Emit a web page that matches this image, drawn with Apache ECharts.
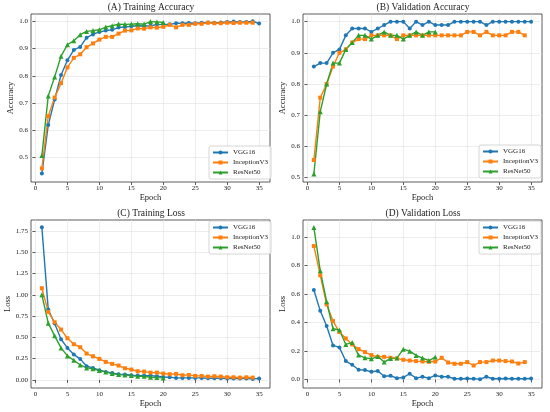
<!DOCTYPE html>
<html>
<head>
<meta charset="utf-8">
<script src="https://cdn.jsdelivr.net/npm/echarts@6/dist/echarts.min.js"></script>
<style>
  html, body { margin: 0; padding: 0; background: #fff; }
  #chart { width: 550px; height: 412px; }
</style>
</head>
<body>
<div id="chart"></div>
<script>
const epochs = [1, 2, 3, 4, 5, 6, 7, 8, 9, 10, 11, 12, 13, 14, 15, 16, 17, 18, 19, 20,
  21, 22, 23, 24, 25, 26, 27, 28, 29, 30, 31, 32, 33, 34, 35];
const modelNames = ["VGG16", "InceptionV3", "ResNet50"];
const xTicks = [0, 5, 10, 15, 20, 25, 30, 35];
const accTicks = [0.5, 0.6, 0.7, 0.8, 0.9, 1.0];
const trainLossTicks = [0, 0.25, 0.5, 0.75, 1.0, 1.25, 1.5, 1.75];
const valLossTicks = [0, 0.2, 0.4, 0.6, 0.8, 1.0];

// (A) training accuracy
const trainAccVGG = [0.441, 0.619, 0.713, 0.803, 0.857, 0.895, 0.906, 0.940, 0.952, 0.961, 0.966, 0.969,
  0.977, 0.979, 0.982, 0.984, 0.983, 0.984, 0.988, 0.989, 0.989, 0.993, 0.993, 0.994, 0.993, 0.995,
  0.996, 0.995, 0.996, 0.998, 0.999, 0.998, 0.998, 1.0, 0.992];
const trainAccInc = [0.460, 0.652, 0.720, 0.773, 0.831, 0.866, 0.879, 0.905, 0.919, 0.933, 0.943, 0.943,
  0.955, 0.966, 0.967, 0.974, 0.973, 0.978, 0.977, 0.980, 0.987, 0.978, 0.987, 0.987, 0.991, 0.991,
  0.995, 0.993, 0.993, 0.995, 0.994, 0.995, 0.995, 0.995];
const trainAccRes = [0.507, 0.726, 0.796, 0.872, 0.914, 0.929, 0.951, 0.963, 0.966, 0.969, 0.979, 0.984,
  0.990, 0.989, 0.990, 0.991, 0.990, 0.999, 0.998, 0.996];

// (B) validation accuracy
const valAccVGG = [0.856, 0.867, 0.867, 0.900, 0.911, 0.956, 0.978, 0.978, 0.978, 0.967, 0.978, 0.989,
  1, 1, 1, 0.978, 1, 0.989, 1, 0.989, 0.989, 0.989, 1, 1, 1, 1, 1, 0.989, 1, 1, 1, 1, 1, 1, 1];
const valAccInc = [0.556, 0.756, 0.800, 0.856, 0.900, 0.911, 0.933, 0.944, 0.944, 0.956, 0.956, 0.956,
  0.956, 0.944, 0.956, 0.956, 0.956, 0.956, 0.956, 0.956, 0.956, 0.956, 0.956, 0.956, 0.967, 0.967,
  0.956, 0.967, 0.956, 0.956, 0.956, 0.967, 0.967, 0.956];
const valAccRes = [0.511, 0.711, 0.800, 0.867, 0.867, 0.911, 0.933, 0.956, 0.956, 0.944, 0.956, 0.967,
  0.956, 0.956, 0.944, 0.956, 0.967, 0.956, 0.967, 0.967];

// (C) training loss
const trainLossVGG = [1.796, 0.827, 0.663, 0.478, 0.376, 0.298, 0.247, 0.161, 0.141, 0.114, 0.094, 0.082,
  0.067, 0.063, 0.055, 0.051, 0.051, 0.051, 0.043, 0.035, 0.031, 0.024, 0.024, 0.024, 0.024, 0.024,
  0.020, 0.020, 0.020, 0.016, 0.016, 0.016, 0.016, 0.012, 0.016];
const trainLossInc = [1.078, 0.800, 0.678, 0.592, 0.490, 0.420, 0.384, 0.310, 0.278, 0.247, 0.212, 0.188,
  0.169, 0.137, 0.122, 0.102, 0.098, 0.086, 0.086, 0.075, 0.067, 0.071, 0.055, 0.059, 0.047, 0.047,
  0.039, 0.043, 0.039, 0.031, 0.031, 0.027, 0.031, 0.027];
const trainLossRes = [1.0, 0.667, 0.518, 0.376, 0.282, 0.231, 0.176, 0.141, 0.130, 0.110, 0.094, 0.075,
  0.063, 0.059, 0.051, 0.043, 0.043, 0.031, 0.027, 0.024];

// (D) validation loss
const valLossVGG = [0.628, 0.482, 0.375, 0.239, 0.225, 0.129, 0.103, 0.068, 0.066, 0.054, 0.059, 0.023,
  0.026, 0.009, 0.014, 0.040, 0.009, 0.019, 0.009, 0.028, 0.019, 0.019, 0.005, 0.005, 0.007, 0.005,
  0.002, 0.019, 0.005, 0.005, 0.007, 0.005, 0.005, 0.005, 0.007];
const valLossInc = [0.937, 0.731, 0.527, 0.410, 0.333, 0.288, 0.246, 0.213, 0.192, 0.171, 0.159, 0.159,
  0.152, 0.148, 0.138, 0.133, 0.129, 0.126, 0.124, 0.126, 0.152, 0.119, 0.110, 0.110, 0.122, 0.098,
  0.122, 0.122, 0.133, 0.133, 0.129, 0.126, 0.112, 0.122];
const valLossRes = [1.068, 0.763, 0.546, 0.356, 0.347, 0.246, 0.260, 0.171, 0.152, 0.145, 0.162, 0.122,
  0.148, 0.150, 0.213, 0.199, 0.169, 0.150, 0.133, 0.157];

const FONT = "Liberation Serif";
const colors = ["#1f77b4", "#ff7f0e", "#2ca02c"];
const symbols = ["circle", "rect", "triangle"];
const symbolSizes = [4, 4, 5];

const panels = [
  { title: "(A) Training Accuracy", yName: "Accuracy", min: 0.41, max: 1.027, ticks: accTicks, dec: 1,
    data: [trainAccVGG, trainAccInc, trainAccRes], grid: { left: 31, top: 14 },
    legend: { right: 279, bottom: 233 } },
  { title: "(B) Validation Accuracy", yName: "Accuracy", min: 0.4855, max: 1.0245, ticks: accTicks, dec: 1,
    data: [valAccVGG, valAccInc, valAccRes], grid: { left: 303, top: 14 },
    legend: { right: 9, bottom: 234 } },
  { title: "(C) Training Loss", yName: "Loss", min: -0.095, max: 1.88, ticks: trainLossTicks, dec: 2,
    data: [trainLossVGG, trainLossInc, trainLossRes], grid: { left: 31, top: 220 },
    legend: { right: 279, top: 221 } },
  { title: "(D) Validation Loss", yName: "Loss", min: -0.06, max: 1.12, ticks: valLossTicks, dec: 1,
    data: [valLossVGG, valLossInc, valLossRes], grid: { left: 303, top: 220 },
    legend: { right: 9, top: 221 } },
];

const chart = echarts.init(document.getElementById("chart"), null, { renderer: "canvas" });

const titles = [], grids = [], xAxes = [], yAxes = [], series = [], legends = [];

panels.forEach((p, i) => {
  grids.push({
    left: p.grid.left, top: p.grid.top, width: 239, height: 168,
    show: true, borderColor: "#333", borderWidth: 0.8, backgroundColor: "transparent",
  });
  titles.push({
    text: p.title, left: p.grid.left + 120, top: p.grid.top - 12, textAlign: "center", padding: 0,
    textStyle: { fontFamily: FONT, fontSize: 9.5, fontWeight: "normal", color: "#222" },
  });
  xAxes.push({
    type: "value", gridIndex: i, min: -0.7, max: 36.7,
    name: "Epoch", nameLocation: "middle", nameGap: 11,
    nameTextStyle: { fontFamily: FONT, fontSize: 8.5, color: "#222" },
    axisLine: { show: false },
    axisTick: { show: true, length: 3, customValues: xTicks, lineStyle: { color: "#333", width: 0.8 } },
    axisLabel: { customValues: xTicks, fontFamily: FONT, fontSize: 7, color: "#222", margin: 3 },
    splitLine: { show: true, lineStyle: { color: "#e0e0e0", width: 0.6 } },
  });
  yAxes.push({
    type: "value", gridIndex: i, min: p.min, max: p.max,
    name: p.yName, nameLocation: "middle", nameGap: p.dec === 2 ? 19 : 15, nameRotate: 90,
    nameTextStyle: { fontFamily: FONT, fontSize: 8.5, color: "#222" },
    axisLine: { show: false },
    axisTick: { show: true, length: 3, customValues: p.ticks, lineStyle: { color: "#333", width: 0.8 } },
    axisLabel: {
      customValues: p.ticks, fontFamily: FONT, fontSize: 7, color: "#222", margin: 3,
      formatter: (v) => Number(v).toFixed(p.dec),
    },
    splitLine: { show: true, lineStyle: { color: "#e0e0e0", width: 0.6 } },
  });
  p.data.forEach((vals, k) => {
    series.push({
      name: modelNames[k], type: "line", xAxisIndex: i, yAxisIndex: i,
      data: vals.map((v, j) => [epochs[j], v]),
      symbol: symbols[k], symbolSize: symbolSizes[k], showAllSymbol: true,
      lineStyle: { color: colors[k], width: 1.4 },
      itemStyle: { color: colors[k], borderWidth: 0 },
      emphasis: { disabled: true },
    });
  });
  legends.push(Object.assign({
    orient: "vertical", data: modelNames,
    backgroundColor: "rgba(255,255,255,0.85)", borderColor: "#ccc", borderWidth: 0.8, borderRadius: 2,
    padding: [3, 3, 3, 3], itemGap: 3, itemWidth: 15, itemHeight: 5,
    textStyle: { fontFamily: FONT, fontSize: 7, color: "#222", padding: [0, 0, 0, 0] },
  }, p.legend));
});

chart.setOption({
  animation: false,
  backgroundColor: "#fff",
  textStyle: { fontFamily: FONT },
  title: titles,
  grid: grids,
  xAxis: xAxes,
  yAxis: yAxes,
  legend: legends,
  series: series,
});
</script>
</body>
</html>
